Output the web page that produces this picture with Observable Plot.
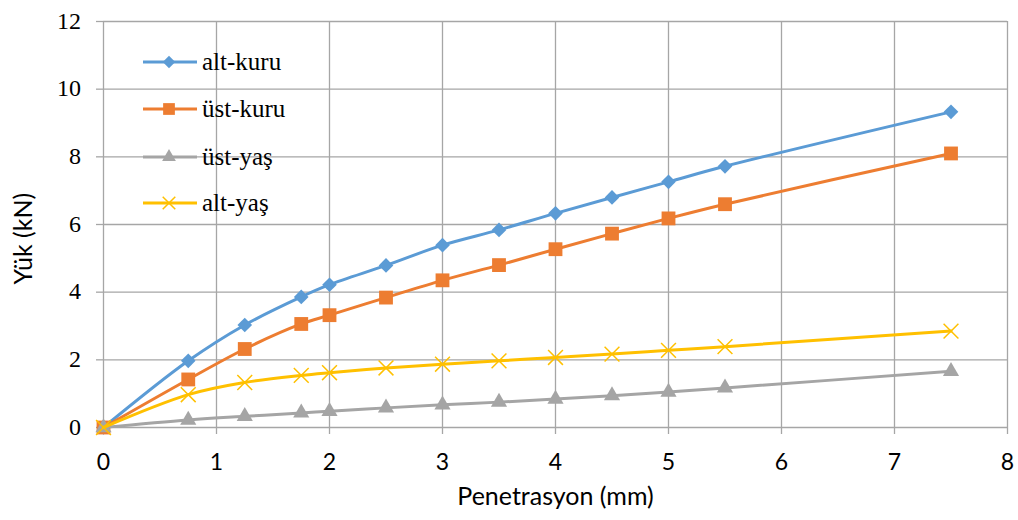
<!DOCTYPE html>
<html>
<head>
<meta charset="utf-8">
<script src="https://cdn.jsdelivr.net/npm/d3@7"></script>
<script src="https://cdn.jsdelivr.net/npm/@observablehq/plot@0.6"></script>
<style>
  html, body { margin: 0; padding: 0; background: #fff; }
  #chart { position: relative; width: 1018px; height: 520px; }
  #chart svg.overlay { position: absolute; left: 0; top: 0; pointer-events: none; }
  .serif, .serif text {
    font-family: "Liberation Serif", "Times New Roman", Times, serif !important;
  }
</style>
</head>
<body>
<div id="chart"></div>
<script>
// Penetration (mm) at each reading
const penetration = [0, 0.75, 1.25, 1.75, 2, 2.5, 3, 3.5, 4, 4.5, 5, 5.5, 7.5];

// Load (kN) for each specimen
const altKuru = [0, 1.97, 3.03, 3.86, 4.22, 4.79, 5.39, 5.84, 6.33, 6.80, 7.26, 7.72, 9.33];
const ustKuru = [0, 1.42, 2.32, 3.06, 3.32, 3.84, 4.35, 4.80, 5.27, 5.73, 6.18, 6.60, 8.10];
const ustYas  = [0, 0.22, 0.33, 0.43, 0.48, 0.58, 0.67, 0.75, 0.84, 0.94, 1.05, 1.17, 1.66];
const altYas  = [0, 0.97, 1.33, 1.54, 1.62, 1.76, 1.87, 1.97, 2.07, 2.17, 2.28, 2.39, 2.85];

const seriesNames   = ["alt-kuru", "üst-kuru", "üst-yaş", "alt-yaş"];
const seriesValues  = [altKuru, ustKuru, ustYas, altYas];
const seriesColors  = ["#5b9bd5", "#ed7d31", "#a5a5a5", "#ffc000"];
const seriesSymbols = ["diamond2", "square", "triangle", "times"];

const xTicks = [0, 1, 2, 3, 4, 5, 6, 7, 8];
const yTicks = [0, 2, 4, 6, 8, 10, 12];

const xLabel = "Penetrasyon (mm)";
const yLabel = "Yük (kN)";

const gridColor = "#a6a6a6";
const sansStack = "Lato, Open Sans, sans-serif";

// Marker radius per symbol (Plot's r → symbol area π·r²)
const symbolRadius = {diamond2: 6.6, square: 7.8, triangle: 6.0, times: 6.8};

// Long-format rows built from the arrays above
const rows = seriesNames.flatMap((name, i) =>
  penetration.map((p, j) => ({series: name, x: p, y: seriesValues[i][j]}))
);

// One line + marker layer per series, drawn in series order
const seriesMarks = seriesNames.flatMap((name, i) => {
  const data = rows.filter(d => d.series === name);
  const symbol = seriesSymbols[i];
  const line = Plot.line(data, {
    x: "x", y: "y", stroke: seriesColors[i], strokeWidth: 3,
    curve: "catmull-rom"
  });
  const dot = symbol === "times"
    ? Plot.dot(data, {x: "x", y: "y", symbol: () => symbol, r: symbolRadius[symbol],
        stroke: seriesColors[i], strokeWidth: 1.5, fill: "none"})
    : Plot.dot(data, {x: "x", y: "y", symbol: () => symbol, r: symbolRadius[symbol],
        fill: seriesColors[i], stroke: "none"});
  return [line, dot];
});

const chart = Plot.plot({
  width: 1018,
  height: 520,
  marginLeft: 103,
  marginRight: 11,
  marginTop: 21,
  marginBottom: 93,
  x: {domain: [0, 8]},
  y: {domain: [0, 12]},
  symbol: {type: "identity"},
  style: {background: "#fff"},
  marks: [
    Plot.gridX(xTicks, {stroke: gridColor, strokeOpacity: 1, strokeWidth: 1.3}),
    Plot.gridY(yTicks, {stroke: gridColor, strokeOpacity: 1, strokeWidth: 1.3}),
    // y tick marks only; the serif numbers are placed with the y scale below
    Plot.axisY(yTicks, {
      ticks: yTicks, tickSize: 7, tickFormat: () => "", label: null,
      stroke: gridColor, strokeWidth: 1.3
    }),
    Plot.axisX(xTicks, {
      ticks: xTicks, tickSize: 7, tickPadding: 19, label: null,
      stroke: gridColor, strokeWidth: 1.3,
      fontSize: 23, fontFamily: sansStack, fill: "#000"
    }),
    ...seriesMarks,
    Plot.text([xLabel], {
      text: d => d, frameAnchor: "bottom", dy: 77,
      fontSize: 25, fontFamily: sansStack, fill: "#000"
    }),
    Plot.text([yLabel], {
      text: d => d, frameAnchor: "left", dx: -80, dy: 60, rotate: -90,
      fontSize: 25, fontFamily: sansStack, fill: "#000"
    })
  ]
});

const container = document.getElementById("chart");
container.appendChild(chart);

// Serif layer: y tick numbers and the legend
const overlay = d3.select(container).append("svg")
  .attr("class", "overlay serif")
  .attr("width", 1018)
  .attr("height", 520);

const yScale = chart.scale("y");
const xScale = chart.scale("x");
const labelRight = xScale.apply(0) - 22;
overlay.append("g")
  .selectAll("text")
  .data(yTicks)
  .join("text")
  .attr("x", labelRight)
  .attr("y", d => yScale.apply(d))
  .attr("dy", "0.32em")
  .attr("text-anchor", "end")
  .attr("font-size", 24)
  .attr("fill", "#000")
  .text(d => String(d));

// Legend inside the plot area, top-left
const legendRowsY = [62, 109, 157, 203];
const d3Symbols = {
  diamond2: d3.symbolDiamond2,
  square: d3.symbolSquare,
  triangle: d3.symbolTriangle,
  times: d3.symbolTimes
};

seriesNames.forEach((name, i) => {
  const g = overlay.append("g").attr("transform", `translate(0,${legendRowsY[i]})`);
  g.append("line")
    .attr("x1", 143).attr("x2", 197).attr("y1", 0).attr("y2", 0)
    .attr("stroke", seriesColors[i]).attr("stroke-width", 3);
  const sym = seriesSymbols[i];
  const r = symbolRadius[sym] * 0.85;
  const path = g.append("path")
    .attr("transform", "translate(169,0)")
    .attr("d", d3.symbol(d3Symbols[sym], Math.PI * r * r)());
  if (sym === "times") {
    path.attr("fill", "none").attr("stroke", seriesColors[i]).attr("stroke-width", 1.5);
  } else {
    path.attr("fill", seriesColors[i]);
  }
  g.append("text")
    .attr("x", 202).attr("y", 0).attr("dy", "0.32em")
    .attr("font-size", 25)
    .attr("fill", "#000")
    .text(name);
});
</script>
</body>
</html>
